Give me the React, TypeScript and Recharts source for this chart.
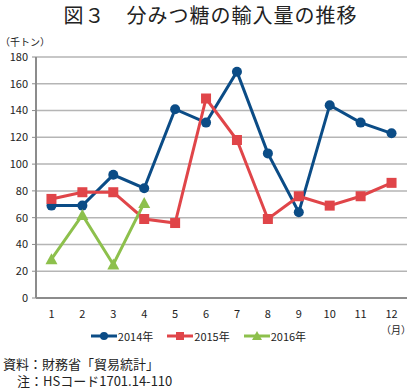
import { LineChart, Line, XAxis, YAxis, CartesianGrid, Legend } from 'recharts'

const months = [1, 2, 3, 4, 5, 6, 7, 8, 9, 10, 11, 12]
const y2014 = [69, 69, 92, 82, 141, 131, 169, 108, 64, 144, 131, 123]
const y2015 = [74, 79, 79, 59, 56, 149, 118, 59, 76, 69, 76, 86]
const y2016 = [29, 62, 25, 71, null, null, null, null, null, null, null, null]
const yTicks = [0, 20, 40, 60, 80, 100, 120, 140, 160, 180]
const bandEdges = [0.5, 1.5, 2.5, 3.5, 4.5, 5.5, 6.5, 7.5, 8.5, 9.5, 10.5, 11.5, 12.5]

const BLUE = '#0b4c86'
const RED = '#e04549'
const GREEN = '#8dc04c'
const AXIS = '#8c8c8c'
const FONT = '"Noto Sans CJK JP", "Noto Sans", sans-serif'

const data = months.map((m, i) => ({ month: m, a: y2014[i], b: y2015[i], c: y2016[i] }))

function Square(props: any) {
  const { cx, cy } = props
  if (cx == null || cy == null) return null
  return <rect x={cx - 5} y={cy - 5} width={10} height={10} fill={RED} />
}

function Triangle(props: any) {
  const { cx, cy, value } = props
  if (cx == null || cy == null || value == null) return null
  return <polygon points={`${cx},${cy - 6} ${cx - 6},${cy + 5} ${cx + 6},${cy + 5}`} fill={GREEN} />
}

function LegendIcon({ color, kind }: { color: string; kind: string }) {
  return (
    <svg width={26} height={10} style={{ verticalAlign: 'middle', marginRight: 1 }}>
      <line x1={0} y1={5} x2={26} y2={5} stroke={color} strokeWidth={3} />
      {kind === 'circle' && <circle cx={13} cy={5} r={4} fill={color} />}
      {kind === 'square' && <rect x={9} y={1} width={8} height={8} fill={color} />}
      {kind === 'triangle' && <polygon points="13,0 8,9 18,9" fill={color} />}
    </svg>
  )
}

const legendItems = [
  { label: '2014年', color: BLUE, kind: 'circle' },
  { label: '2015年', color: RED, kind: 'square' },
  { label: '2016年', color: GREEN, kind: 'triangle' },
]

function LegendContent() {
  return (
    <div style={{ display: 'flex', justifyContent: 'center', gap: 14, fontSize: 11, color: '#222', fontFamily: FONT, paddingRight: 10 }}>
      {legendItems.map((it) => (
        <span key={it.label} style={{ display: 'inline-flex', alignItems: 'center' }}>
          <LegendIcon color={it.color} kind={it.kind} />
          {it.label}
        </span>
      ))}
    </div>
  )
}

export default function App() {
  return (
    <div style={{ position: 'absolute', left: 0, top: 0, width: 413, height: 391, background: '#fff', fontFamily: FONT }}>
      <div style={{ position: 'absolute', left: 4, top: 1, width: 413, textAlign: 'center', fontSize: 20, color: '#222', letterSpacing: 1, lineHeight: '28px' }}>
        図３　分みつ糖の輸入量の推移
      </div>
      <div style={{ position: 'absolute', left: 0, top: 36, fontSize: 10, color: '#222', lineHeight: '12px' }}>（千トン）</div>
      <div style={{ position: 'absolute', left: 381, top: 324, fontSize: 10, color: '#222', lineHeight: '12px' }}>（月）</div>
      <div style={{ position: 'absolute', left: 0, top: 0 }}>
        <LineChart width={413} height={350} data={data} margin={{ top: 57, right: 6, left: 0, bottom: 0 }}>
          <CartesianGrid vertical={false} stroke="#b5b5b5" strokeWidth={1.5} />
          <XAxis
            dataKey="month"
            type="number"
            domain={[0.5, 12.5]}
            ticks={months}
            tickLine={false}
            axisLine={{ stroke: AXIS, strokeWidth: 2 }}
            tick={{ fontSize: 11, fill: '#222', fontFamily: FONT }}
            tickMargin={6}
            height={30}
            interval={0}
          />
          <XAxis
            xAxisId="edges"
            dataKey="month"
            type="number"
            domain={[0.5, 12.5]}
            ticks={bandEdges}
            tickFormatter={() => ''}
            tickLine={{ stroke: AXIS }}
            tickSize={4}
            axisLine={{ stroke: AXIS, strokeWidth: 2 }}
            height={0}
            interval={0}
          />
          <YAxis
            domain={[0, 180]}
            ticks={yTicks}
            width={36}
            tickLine={{ stroke: AXIS }}
            tickSize={4}
            axisLine={{ stroke: AXIS, strokeWidth: 2 }}
            tick={{ fontSize: 11, fill: '#222', fontFamily: FONT }}
            tickMargin={4}
            interval={0}
          />
          <Legend verticalAlign="bottom" height={22} content={<LegendContent />} />
          <Line dataKey="a" name="2014年" stroke={BLUE} strokeWidth={3} dot={{ r: 5, fill: BLUE, stroke: BLUE, strokeWidth: 0 }} isAnimationActive={false} />
          <Line dataKey="b" name="2015年" stroke={RED} strokeWidth={3} dot={<Square />} isAnimationActive={false} />
          <Line dataKey="c" name="2016年" stroke={GREEN} strokeWidth={3} dot={<Triangle />} isAnimationActive={false} />
        </LineChart>
      </div>
      <div style={{ position: 'absolute', left: 3, top: 355, fontSize: 13, color: '#222', lineHeight: '17px' }}>
        <div>資料：財務省「貿易統計」</div>
        <div style={{ paddingLeft: 14 }}>注：HSコード1701.14-110</div>
      </div>
    </div>
  )
}
